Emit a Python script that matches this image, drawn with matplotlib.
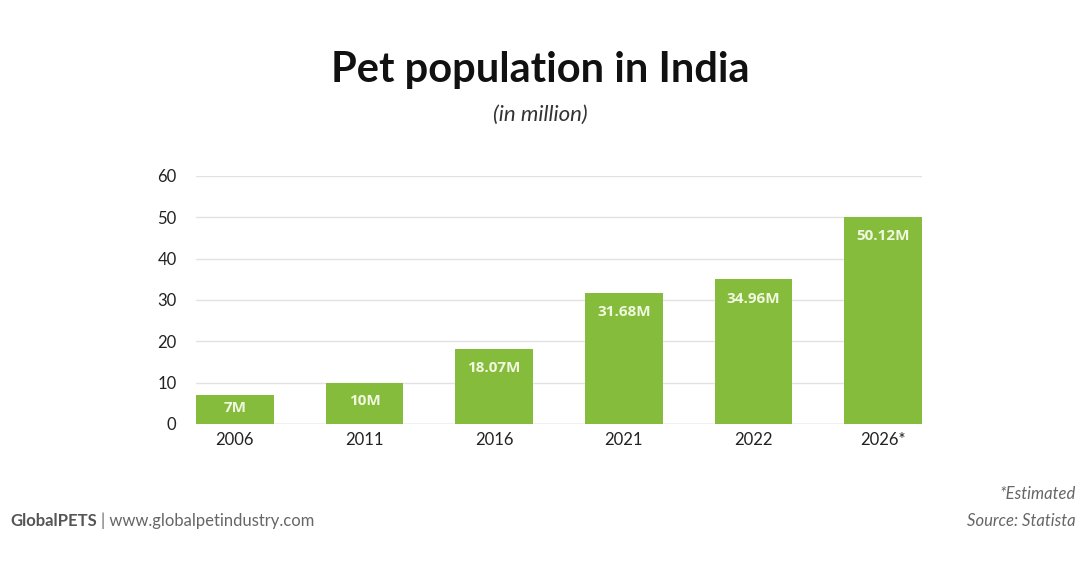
import matplotlib.pyplot as plt
import numpy as np

# data
years = ['2006', '2011', '2016', '2021', '2022', '2026*']
pets = [7, 10, 18.07, 31.68, 34.96, 50.12]
bar_labels = ['7M', '10M', '18.07M', '31.68M', '34.96M', '50.12M']
yticks = [0, 10, 20, 30, 40, 50, 60]

plt.rcParams['font.family'] = ['Lato', 'DejaVu Sans']

fig = plt.figure(figsize=(10.8, 5.65), dpi=100)
ax = fig.add_axes([196 / 1080, 1 - 424 / 565, 726 / 1080, 248 / 565])

w = 0.6
x = np.arange(len(years))
ax.bar(x, pets, width=w, color='#86bc3c', zorder=3)
for xi, v, lab in zip(x, pets, bar_labels):
    off = min(4.6, v * 0.45)
    ax.text(xi, v - off, lab, ha='center', va='center', color='#f0f8e0',
            fontsize=11, fontweight='bold', family=['Open Sans', 'DejaVu Sans'], zorder=4)

ax.set_xlim(-w / 2, len(years) - 1 + w / 2)
ax.set_ylim(0, 60)
ax.set_yticks(yticks)
ax.set_xticks(x)
ax.set_xticklabels(years)
ax.tick_params(axis='both', length=0, labelsize=12, colors='#222222')
ax.tick_params(axis='y', pad=14)
ax.tick_params(axis='x', pad=6)
ax.grid(axis='y', color='#e2e2e2', linewidth=1, zorder=0)
for s in ax.spines.values():
    s.set_visible(False)
ax.axhline(0, color='#d0d0d0', linewidth=1, zorder=2)

fig.text(0.5, 1 - 70 / 565, 'Pet population in India', ha='center', va='center',
         fontsize=30, fontweight='bold', color='#111111')
fig.text(0.5, 1 - 115 / 565, '(in million)', ha='center', va='center',
         fontsize=16, style='italic', color='#333333')

fig.text(10 / 1080, 1 - 521 / 565, 'GlobalPETS', ha='left', va='center',
         fontsize=12, fontweight='bold', color='#555555')
fig.text(101 / 1080, 1 - 521 / 565, '| www.globalpetindustry.com', ha='left', va='center',
         fontsize=12, color='#666666')
fig.text(1076 / 1080, 1 - 494 / 565, '*Estimated', ha='right', va='center',
         fontsize=12, style='italic', color='#666666')
fig.text(1076 / 1080, 1 - 521 / 565, 'Source: Statista', ha='right', va='center',
         fontsize=12, style='italic', color='#666666')

fig.savefig('out.png', dpi=100, facecolor='white')
